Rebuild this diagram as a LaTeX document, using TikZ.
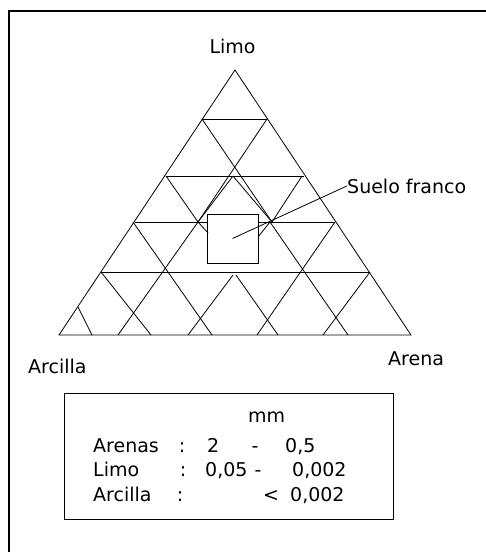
\documentclass[tikz,border=0pt]{standalone}
\usepackage{fontspec}
\setmainfont{DejaVu Sans}
\tikzset{
  grid line/.style={line width=0.8pt},
  frame line/.style={line width=1.1pt},
  lbl/.style={font=\fontsize{19}{22}\selectfont, inner sep=0pt},
}

\begin{document}
\begin{tikzpicture}[x=1pt, y=-1pt]
  \fill[white] (0,0) rectangle (486,552);
  \useasboundingbox (0,0) rectangle (486,552);

  % outer frame, cut off at the right and at the bottom
  \draw[frame line] (9,552) -- (9,11) -- (486,11);

  % corners of the triangle
  \coordinate (T) at (235,70);
  \coordinate (L) at (59,335);
  \coordinate (R) at (411,335);
  \draw[grid line] (T) -- (L) -- (R) -- cycle;

  % horizontal levels
  \foreach \y/\xa/\xb in {119/202/267, 176/166/304, 222/135/335, 272/101/370}
    \draw[grid line] (\xa,\y) -- (\xb,\y);

  % slanted lines, drawn by hand so not quite a regular grid
  \foreach \xa/\ya/\xb/\yb in {202/119/272/222, 267/119/198/222,
      166/176/198/222, 233/176/198/222, 233/176/272/222, 302/176/272/222,
      133/222/212/335, 198/222/118/335, 270/222/348/335, 335/222/257/335,
      101/272/151/335, 78/307/92/335, 233/275/188/335, 236/275/278/335,
      370/272/323/335}
    \draw[grid line] (\xa,\ya) -- (\xb,\yb);

  % loam square on top of the grid
  \node[draw, fill=white, grid line, minimum width=51pt, minimum height=49pt,
        inner sep=0pt] (loam) at (232.5,238.5) {};
  \draw[grid line] (198,222) -- (208,233);
  \draw[grid line] (270,222) -- (258,237);

  % corner labels
  \node[lbl, anchor=base] (limo) at (232.5,53) {Limo};
  \node[lbl, anchor=base west] (arcilla) at (28,373) {Arcilla};
  \node[lbl, anchor=base west] (arena) at (388,365) {Arena};
  \node[lbl, anchor=base west] (franco) at (347,193) {Suelo franco};
  \draw[grid line] (loam.center) -- (franco.west);

  % legend with grain sizes
  \node[draw, frame line, anchor=north west, minimum width=329pt,
        minimum height=126pt, inner sep=0pt] (legend) at (64,393) {};
  \node[lbl, anchor=base west] (unit) at (248,422) {mm};
  \foreach \y/\name/\cx in {452/Arenas/182, 476/Limo/183, 501/Arcilla/180} {
    \node[lbl, anchor=base west] (n\y) at (93,\y) {\name};
    \node[lbl, anchor=base] (c\y) at (\cx,\y) {:};
  }
  \node[lbl, anchor=base west] (lo452) at (207,452) {2};
  \node[lbl, anchor=base] (d452) at (255,452) {-};
  \node[lbl, anchor=base west] (hi452) at (285,452) {0,5};
  \node[lbl, anchor=base west] (lo476) at (205,476) {0,05};
  \node[lbl, anchor=base] (d476) at (258,476) {-};
  \node[lbl, anchor=base west] (hi476) at (292,476) {0,002};
  \node[lbl, anchor=base west] (lt501) at (263,501) {<};
  \node[lbl, anchor=base west] (hi501) at (290,501) {0,002};
\end{tikzpicture}
\end{document}
